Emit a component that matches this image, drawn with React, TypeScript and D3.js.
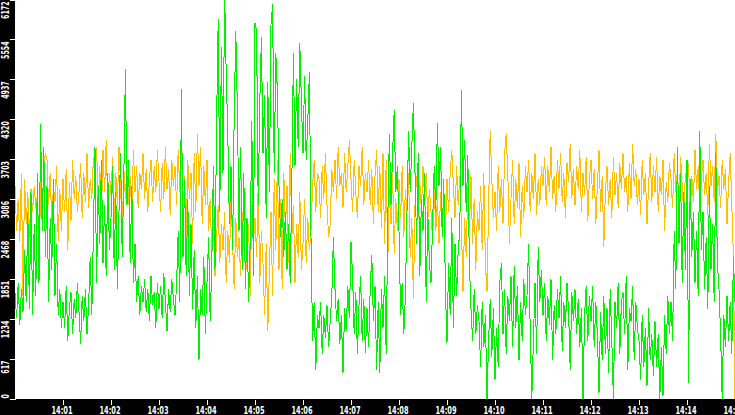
import React from "react";
import * as d3 from "d3";

const START = "14:00:00";
const END = "14:15:00";
const STEP_SECONDS = 2;
const Y_MAX = 6172;

const yTickLabels = ["0", "617", "1234", "1851", "2468", "3086", "3703", "4320", "4937", "5554", "6172"];
const xTickLabels = ["14:01", "14:02", "14:03", "14:04", "14:05", "14:06", "14:07", "14:08", "14:09", "14:10", "14:11", "14:12", "14:13", "14:14", "14:15"];

const greenValues = [
  1650, 1250, 1800, 1150, 1700, 1350, 2300, 1500, 2900, 1400,
  3200, 1300, 2700, 1600, 3500, 1800, 4250, 2600, 3900, 2200,
  3300, 1500, 2800, 2000, 3400, 1600, 2400, 1300, 1700, 1100,
  1500, 1100, 1750, 900, 1400, 1650, 1000, 1550, 1250, 1800,
  1350, 850, 1600, 1200, 1700, 1000, 1450, 2200, 1300, 2600,
  3900, 1800, 3300, 2400, 3700, 2100, 3000, 1900, 3500, 2300,
  2800, 3600, 2000, 3200, 1700, 2900, 3800, 2200, 3400, 5100,
  3000, 3700, 2100, 3300, 1800, 2400, 1500, 1900, 1300, 1750,
  1500, 1850, 1350, 1700, 1200, 1900, 1450, 1650, 1100, 1800,
  1400, 1750, 1250, 1950, 1500, 1050, 1700, 1350, 1850, 1550,
  1300, 1800, 2600, 1500, 4800, 2200, 3400, 1900, 3100, 1600,
  2700, 1400, 2300, 1100, 1900, 600, 1700, 1300, 2200, 1000,
  1800, 2500, 1200, 2100, 3600, 2000, 4300, 5880, 2900, 5450,
  3500, 6300, 5040, 4100, 2700, 3600, 2300, 4400, 5690, 4470,
  2600, 3900, 2000, 3500, 1700, 2800, 1500, 2400, 4300, 1900,
  5820, 5700, 3000, 4600, 5600, 3800, 4700, 2800, 4900, 3200,
  5790, 6110, 3500, 5350, 4750, 3300, 2500, 3100, 2200, 2900,
  2000, 2700, 1800, 3300, 5350, 3600, 4950, 3900, 5500, 4600,
  3800, 5000, 3700, 4300, 5060, 2500, 900, 1500, 450, 1300,
  1100, 1500, 700, 1300, 950, 1450, 800, 1200, 1600, 2500,
  1700, 1200, 1550, 850, 1300, 400, 1400, 1050, 1750, 1250,
  2430, 1900, 1000, 1650, 700, 1450, 1900, 900, 1550, 710,
  1400, 800, 1700, 2230, 1200, 1750, 450, 1500, 400, 1700,
  1100, 1900, 700, 2800, 4100, 3000, 3800, 4470, 3200, 3600,
  2600, 1300, 1800, 1000, 1600, 2900, 4150, 3200, 3900, 4580,
  3500, 2400, 3800, 1900, 3100, 2600, 3500, 1500, 2900, 2100,
  1800, 2700, 3600, 2900, 4270, 3300, 3900, 2500, 3400, 1700,
  870, 2100, 1300, 2800, 1100, 2400, 1600, 2300, 2600, 4780,
  3300, 4000, 2900, 3770, 2100, 1400, 900, 1700, 1000, 1450,
  1200, 500, 1500, 800, 1300, 0, 900, 1550, 650, 1400,
  300, 1100, 500, 1800, 2100, 1000, 1700, 700, 1600, 1200,
  1900, 800, 2050, 1100, 1750, 600, 1500, 900, 1850, 1300,
  1600, 2400, 1100, 0, 900, 1800, 700, 2350, 1500, 2000,
  1300, 1800, 900, 1600, 1150, 1850, 600, 1450, 1000, 1700,
  1250, 1900, 750, 1500, 1100, 1800, 1350, 450, 1650, 1200,
  1700, 1000, 1550, 800, 1400, 0, 1300, 1750, 900, 1600,
  1200, 1750, 800, 1500, 1000, 100, 1350, 600, 1600, 700,
  1400, 400, 1700, 900, 0, 1500, 1100, 1800, 700, 1500,
  1650, 1000, 1900, 450, 1400, 1200, 1750, 600, 1500, 1100,
  900, 300, 1300, 500, 1100, 200, 1400, 600, 1000, 350,
  1200, 500, 1000, 0, 800, 50, 1300, 700, 1600, 1000,
  1500, 900, 2600, 1700, 3900, 2400, 3500, 1800, 3200, 2000,
  3700, 250, 3400, 2200, 2900, 1800, 2600, 1600, 4150, 2300,
  2900, 1700, 2500, 1400, 3300, 2000, 2700, 1500, 3800, 2100,
  1700, 1000, 0, 1300, 800, 1600, 900, 1500, 700, 2200,
  1500,
];

const orangeValues = [
  3300, 2600, 3100, 2450, 3500, 1600, 3400, 2700, 3200, 2500,
  3250, 2900, 3300, 2950, 3150, 1800, 3400, 2800, 3600, 3800,
  3700, 3000, 3500, 2700, 3300, 3050, 3600, 2450, 3250, 2600,
  3400, 2900, 3550, 2300, 3350, 2750, 3700, 3100, 3450, 2900,
  3200, 3650, 2800, 3500, 3050, 3800, 2950, 3400, 3100, 3750,
  3300, 3900, 3000, 3600, 2800, 3850, 3200, 4000, 2900, 3500,
  3150, 3750, 2700, 3500, 3000, 3900, 3300, 2500, 3600, 3100,
  3700, 3000, 3450, 2800, 3850, 3200, 3600, 2950, 3500, 3250,
  3800, 3100, 3550, 2900, 3400, 3700, 3050, 3600, 3200, 3850,
  3350, 2900, 3650, 3100, 3900, 3250, 3550, 2850, 3700, 3300,
  3600, 3000, 3850, 3200, 4000, 2800, 3450, 2500, 3700, 3100,
  3500, 2400, 3800, 2900, 4100, 3300, 3900, 2700, 3600, 3000,
  3700, 2600, 3100, 2200, 2800, 1900, 2500, 3000, 2100, 2700,
  2300, 2900, 1800, 2600, 2100, 3100, 2400, 1700, 2800, 2200,
  2500, 1900, 2900, 2300, 3200, 2000, 2700, 1600, 3000, 2400,
  2800, 2200, 3300, 1800, 2600, 2100, 1300, 2400, 1050, 2000,
  2900, 1600, 3400, 2300, 3700, 2000, 3100, 1700, 3500, 2600,
  3300, 2100, 3800, 2500, 3000, 1800, 2700, 2200, 3200, 2000,
  2400, 3100, 2100, 2800, 2300, 2600, 3300, 3700, 2900, 3500,
  3400, 2800, 3600, 3100, 3800, 3000, 2500, 2700, 3550, 3200,
  3700, 3100, 3900, 3300, 3500, 2950, 3800, 3200, 3600, 4000,
  3400, 2900, 3700, 3200, 2800, 3600, 3300, 3900, 3000, 3500,
  3200, 3700, 3000, 3550, 2700, 3450, 3850, 2900, 3600, 2650,
  3800, 2400, 3700, 2100, 3300, 2700, 3500, 2260, 3100, 2600,
  3400, 2800, 3600, 2500, 3250, 2900, 3500, 2200, 2800, 1550,
  3000, 3450, 2800, 3350, 2900, 3600, 3100, 3500, 2750, 3250,
  2900, 2450, 3300, 2600, 3100, 2400, 3200, 2700, 3000, 2500,
  3400, 2900, 3500, 3850, 3300, 2800, 3600, 3000, 3450, 2700,
  1650, 2800, 2200, 3300, 2600, 3450, 2400, 3100, 2000, 2900,
  2600, 3300, 2300, 3500, 2100, 1650, 3000, 4150, 3400, 2800,
  3200, 2600, 3600, 2900, 3400, 2700, 3800, 4100, 3500, 2400,
  3100, 3700, 2700, 3400, 2950, 3650, 2500, 3300, 2800, 3600,
  3200, 3700, 2900, 3500, 3100, 3800, 2850, 3400, 3000, 3600,
  3300, 3750, 3000, 3600, 3200, 3900, 3100, 3450, 2900, 3700,
  3250, 3800, 3050, 3500, 2800, 3650, 3350, 3950, 3100, 3550,
  3000, 3600, 3250, 3850, 2900, 3500, 3150, 3750, 2750, 3400,
  3700, 3100, 3550, 2700, 3300, 3850, 2900, 3450, 2350, 3200,
  3600, 3000, 3400, 2800, 3750, 3150, 3500, 2950, 3650, 3250,
  3800, 3200, 3450, 2900, 3650, 3100, 3950, 3300, 3550, 3000,
  3400, 2850, 3700, 3150, 3500, 2700, 3300, 3800, 3050, 3600,
  3200, 3750, 2900, 3450, 3150, 3700, 2600, 3350, 3050, 3650,
  3400, 2950, 3800, 3200, 3550, 3000, 3750, 3300, 2850, 3500,
  3100, 3650, 2800, 3450, 3050, 3850, 3250, 3600, 2900, 3400,
  3700, 3150, 3500, 2850, 3950, 3300, 3600, 3050, 4100, 3200,
  3450, 2950, 3700, 3250, 3550, 2700, 3350, 3800, 3000, 2200,
  0,
];

const W = 735;
const H = 415;
const LEFT = 15;
const BOTTOM = 399;
const FONT = "'DejaVu Sans', sans-serif";

function labelWidth(s: string) {
  let w = 0;
  for (const c of s) w += c === ":" ? 3.5 : 4.4;
  return w;
}

export default function App() {
  const parse = d3.timeParse("%H:%M:%S");
  const t0 = parse(START) as Date;
  const t1 = parse(END) as Date;
  const x = d3.scaleTime().domain([t0, t1]).range([LEFT, W]);
  const y = d3.scaleLinear().domain([0, Y_MAX]).range([BOTTOM, 0]);

  const toPoints = (vals: number[]) =>
    vals.map((v, i) => [new Date(+t0 + i * STEP_SECONDS * 1000), v] as [Date, number]);
  const line = d3
    .line<[Date, number]>()
    .x((d) => x(d[0]))
    .y((d) => y(d[1]));

  const parseHM = d3.timeParse("%H:%M");

  return (
    <svg
      width={W}
      height={H}
      style={{ position: "fixed", left: 0, top: 0, display: "block" }}
    >
      <defs>
        <clipPath id="plot">
          <rect x={LEFT} y={0} width={W - LEFT} height={BOTTOM} />
        </clipPath>
      </defs>
      <rect x={0} y={0} width={W} height={H} fill="#ffffff" />
      <g clipPath="url(#plot)" shapeRendering="crispEdges">
        <path d={line(toPoints(orangeValues)) || ""} fill="none" stroke="#ffc000" strokeWidth={1} />
        <path d={line(toPoints(greenValues)) || ""} fill="none" stroke="#00f000" strokeWidth={1} />
      </g>
      <rect x={0} y={0} width={LEFT} height={H} fill="#000000" />
      <rect x={0} y={BOTTOM} width={W} height={H - BOTTOM} fill="#000000" />
      {yTickLabels.map((lab) => {
        const ty = y(+lab);
        const len = labelWidth(lab);
        const endY = Math.min(ty + 1.4, BOTTOM - len - 0.5);
        return (
          <g key={"y" + lab}>
            <line x1={10} x2={16} y1={Math.max(ty, 0.5)} y2={Math.max(ty, 0.5)} stroke="#ffffff" strokeWidth={1} shapeRendering="crispEdges" />
            <text
              transform={`translate(8.5,${endY}) rotate(-90)`}
              textAnchor="end"
              fill="#ffffff"
              fontFamily={FONT}
              fontSize={10}
              fontWeight="bold"
              textLength={len}
              lengthAdjust="spacingAndGlyphs"
            >
              {lab}
            </text>
          </g>
        );
      })}
      {xTickLabels.map((lab) => {
        const d = parseHM(lab) as Date;
        const tx = x(d);
        return (
          <g key={"x" + lab}>
            <line x1={tx} x2={tx} y1={BOTTOM + 1} y2={BOTTOM + 6} stroke="#ffffff" strokeWidth={1} shapeRendering="crispEdges" />
            <text
              x={tx - 1}
              y={414}
              textAnchor="middle"
              fill="#ffffff"
              fontFamily={FONT}
              fontSize={10}
              fontWeight="bold"
              textLength={labelWidth(lab)}
              lengthAdjust="spacingAndGlyphs"
            >
              {lab}
            </text>
          </g>
        );
      })}
    </svg>
  );
}
